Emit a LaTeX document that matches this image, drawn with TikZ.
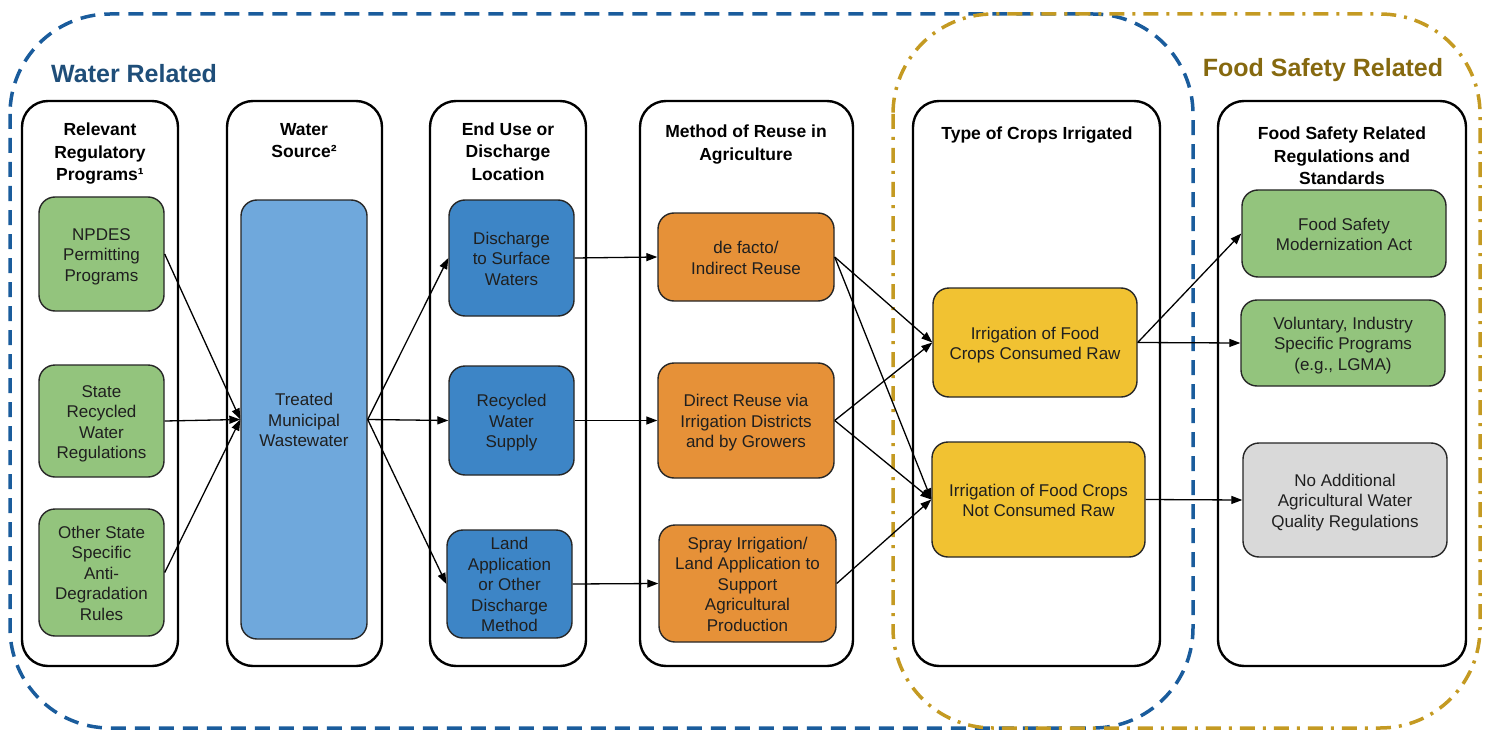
\documentclass[tikz,border=0pt]{standalone}
\usepackage{fontspec}
\setmainfont{Liberation Sans}
\usetikzlibrary{arrows.meta}

\definecolor{regionblue}{HTML}{1A5C9C}
\definecolor{titleblue}{HTML}{1F4E79}
\definecolor{regiongold}{HTML}{C49A22}
\definecolor{titlegold}{HTML}{86690F}
\definecolor{cgreen}{HTML}{93C47D}
\definecolor{clightblue}{HTML}{6FA8DC}
\definecolor{cdarkblue}{HTML}{3D85C6}
\definecolor{corange}{HTML}{E69138}
\definecolor{cyellow}{HTML}{F1C232}
\definecolor{cgray}{HTML}{D9D9D9}

% fixed first-line height and last-line depth, so every text block is centred alike
\newcommand\celltext[1]{\rule{0pt}{17.55pt}#1\rule[-3.8pt]{0pt}{3.8pt}}
\newcommand\headtext[1]{\rule{0pt}{16.5pt}#1\rule[-3.8pt]{0pt}{3.8pt}}

\tikzset{
  column/.style={draw=black, line width=2.4pt, rounded corners=26pt, fill=white, inner sep=0pt},
  cell/.style={draw=black!85, line width=1.4pt, rounded corners=16pt, align=center,
    inner sep=0pt, text=black!88, font=\fontsize{17}{20.5}\selectfont},
  head/.style={align=center, inner sep=0pt, font=\bfseries\fontsize{17.5}{22.5}\selectfont},
  flow/.style={-{Triangle[length=11pt,width=8pt]}, line width=1.3pt},
  regiontitle/.style={inner sep=0pt, font=\bfseries\fontsize{25}{30}\selectfont},
}

\begin{document}
\begin{tikzpicture}[x=1pt, y=-1pt]
\useasboundingbox (0,0) rectangle (1490,730);

% ---- grouping regions ----
\draw[regionblue, line width=3.5pt, dash pattern=on 15pt off 9pt, rounded corners=100pt]
  (10,14) rectangle (1193,728);
\draw[regiongold, line width=3.5pt, dash pattern=on 15pt off 8pt on 3pt off 8pt, rounded corners=100pt]
  (893,14) rectangle (1480,728);

\node[regiontitle, text=titleblue, anchor=base west] (wtitle) at (51,82.5) {Water Related};
\node[regiontitle, text=titlegold, anchor=base] (ftitle) at (1323,76.5) {Food Safety Related};

% ---- columns ----
\node[column, minimum width=156, minimum height=565] (c1) at (100,383.5) {};
\node[column, minimum width=155, minimum height=565] (c2) at (304.5,383.5) {};
\node[column, minimum width=156, minimum height=565] (c3) at (508,383.5) {};
\node[column, minimum width=213, minimum height=565] (c4) at (746.5,383.5) {};
\node[column, minimum width=247, minimum height=565] (c5) at (1036.5,383.5) {};
\node[column, minimum width=248, minimum height=565] (c6) at (1342,383.5) {};

% ---- column headings ----
\node[head] (h1) at (100,151.7) {\headtext{Relevant\\Regulatory\\Programs¹}};
\node[head] (h2) at (304,140) {\headtext{Water\\Source²}};
\node[head] (h3) at (508,151.3) {\headtext{End Use or\\Discharge\\Location}};
\node[head] (h4) at (746,142.5) {\headtext{Method of Reuse in\\Agriculture}};
\node[head] (h5) at (1037,133) {\headtext{Type of Crops Irrigated}};
\node[head] (h6) at (1342,155.7) {\headtext{Food Safety Related\\Regulations and\\Standards}};

% ---- regulatory programs ----
\node[cell, fill=cgreen, minimum width=125, minimum height=114] (npdes) at (101.5,254) {\celltext{NPDES\\Permitting\\Programs}};
\node[cell, fill=cgreen, minimum width=125, minimum height=112] (state) at (101.5,421) {\celltext{State\\Recycled\\Water\\Regulations}};
\node[cell, fill=cgreen, minimum width=125, minimum height=127] (other) at (101.5,572.5) {\celltext{Other State\\Specific\\Anti-\\Degradation\\Rules}};

% ---- water source ----
\node[cell, fill=clightblue, minimum width=126, minimum height=439] (ww) at (304,419.5) {\celltext{Treated\\Municipal\\Wastewater}};

% ---- end use / discharge ----
\node[cell, fill=cdarkblue, minimum width=125, minimum height=116] (dis) at (511.5,258) {\celltext{Discharge\\to Surface\\Waters}};
\node[cell, fill=cdarkblue, minimum width=125, minimum height=109] (rec) at (511.5,420.5) {\celltext{Recycled\\Water\\Supply}};
\node[cell, fill=cdarkblue, minimum width=125, minimum height=108] (land) at (509.5,584) {\celltext{Land\\Application\\or Other\\Discharge\\Method}};

% ---- method of reuse ----
\node[cell, fill=corange, minimum width=176, minimum height=88] (defacto) at (746,257) {\celltext{de facto/\\Indirect Reuse}};
\node[cell, fill=corange, minimum width=176, minimum height=115] (direct) at (746,420.5) {\celltext{Direct Reuse via\\Irrigation Districts\\and by Growers}};
\node[cell, fill=corange, minimum width=177, minimum height=117] (spray) at (747.5,583.5) {\celltext{Spray Irrigation/\\Land Application to\\Support\\Agricultural\\Production}};

% ---- crops ----
\node[cell, fill=cyellow, minimum width=204, minimum height=109] (raw) at (1035,342.5) {\celltext{Irrigation of Food\\Crops Consumed Raw}};
\node[cell, fill=cyellow, minimum width=213, minimum height=115] (notraw) at (1038.5,499.5) {\celltext{Irrigation of Food Crops\\Not Consumed Raw}};

% ---- food safety regulations ----
\node[cell, fill=cgreen, minimum width=204, minimum height=87] (fsma) at (1344,233.5) {\celltext{Food Safety\\Modernization Act}};
\node[cell, fill=cgreen, minimum width=204, minimum height=86] (vol) at (1343,343) {\celltext{Voluntary, Industry\\Specific Programs\\(e.g., LGMA)}};
\node[cell, fill=cgray, minimum width=204, minimum height=114] (noadd) at (1345,500) {\celltext{No Additional\\Agricultural Water\\Quality Regulations}};

% ---- connectors ----
\draw[flow] (npdes.east) -- (ww.west);
\draw[flow] (state.east) -- (ww.west);
\draw[flow] (other.east) -- (ww.west);

\draw[flow] (ww.east) -- (dis.west);
\draw[flow] (ww.east) -- (rec.west);
\draw[flow] (ww.east) -- (land.west);

\draw[flow] (dis.east) -- (defacto.west);
\draw[flow] (rec.east) -- (direct.west);
\draw[flow] (land.east) -- (spray.west);

\draw[flow] (defacto.east) -- (raw.west);
\draw[flow] (defacto.east) -- (notraw.west);
\draw[flow] (direct.east) -- (raw.west);
\draw[flow] (direct.east) -- (notraw.west);
\draw[flow] (spray.east) -- (notraw.west);

\draw[flow] (raw.east) -- (fsma.west);
\draw[flow] (raw.east) -- (vol.west);
\draw[flow] (notraw.east) -- (noadd.west);
\end{tikzpicture}
\end{document}
